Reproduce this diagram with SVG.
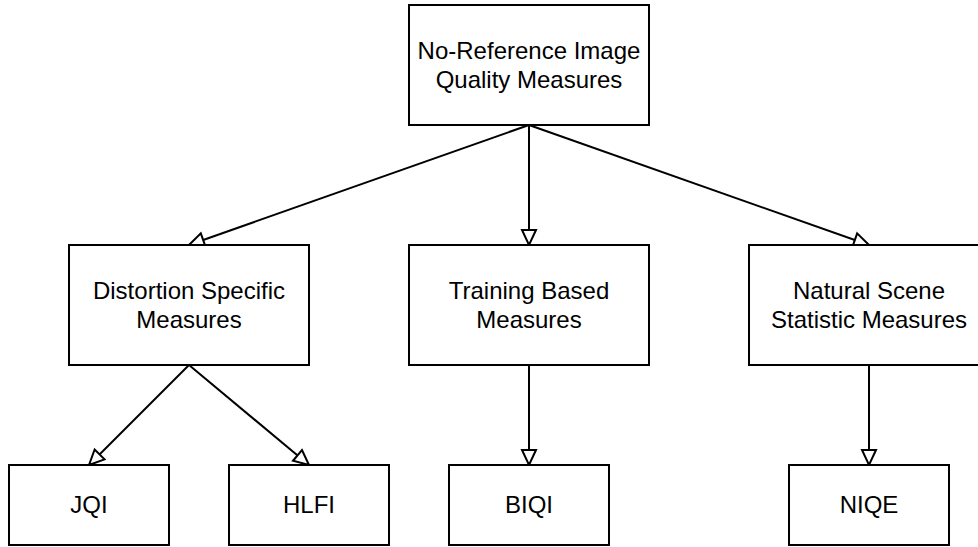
<svg xmlns="http://www.w3.org/2000/svg" width="978" height="547" viewBox="0 0 978 547">
  <style>
    .box { fill: #ffffff; stroke: #000000; stroke-width: 2; }
    .lbl { font-family: "Liberation Sans", Arial, Helvetica, sans-serif; font-size: 24px; fill: #000000; text-anchor: middle; }
    .edge { fill: none; stroke: #000000; stroke-width: 2; marker-end: url(#arrow); }
  </style>
  <defs>
    <marker id="arrow" markerUnits="userSpaceOnUse" markerWidth="20" markerHeight="20" viewBox="-2 -2 20 18" refX="15" refY="7" orient="auto">
      <path d="M0,0 L15,7 L0,14 Z" fill="#ffffff" stroke="#000000" stroke-width="2" stroke-linejoin="miter"/>
    </marker>
  </defs>
  <rect width="978" height="547" fill="#ffffff"/>

  <g id="connectors">
    <path class="edge" d="M529,125 L189,245"/>
    <path class="edge" d="M529,125 L529,245"/>
    <path class="edge" d="M529,125 L869,245"/>
    <path class="edge" d="M189,365 L89,465"/>
    <path class="edge" d="M189,365 L309,465"/>
    <path class="edge" d="M529,365 L529,465"/>
    <path class="edge" d="M869,365 L869,465"/>
  </g>

  <g id="node-root">
    <rect class="box" x="409" y="5" width="240" height="120"/>
    <text class="lbl" x="529" y="59">No-Reference Image</text>
    <text class="lbl" x="529" y="88">Quality Measures</text>
  </g>
  <g id="node-distortion">
    <rect class="box" x="69" y="245" width="240" height="120"/>
    <text class="lbl" x="189" y="299">Distortion Specific</text>
    <text class="lbl" x="189" y="328">Measures</text>
  </g>
  <g id="node-training">
    <rect class="box" x="409" y="245" width="240" height="120"/>
    <text class="lbl" x="529" y="299">Training Based</text>
    <text class="lbl" x="529" y="328">Measures</text>
  </g>
  <g id="node-nss">
    <rect class="box" x="749" y="245" width="240" height="120"/>
    <text class="lbl" x="869" y="299">Natural Scene</text>
    <text class="lbl" x="869" y="328">Statistic Measures</text>
  </g>
  <g id="node-jqi">
    <rect class="box" x="9" y="465" width="160" height="80"/>
    <text class="lbl" x="89" y="513">JQI</text>
  </g>
  <g id="node-hlfi">
    <rect class="box" x="229" y="465" width="160" height="80"/>
    <text class="lbl" x="309" y="513">HLFI</text>
  </g>
  <g id="node-biqi">
    <rect class="box" x="449" y="465" width="160" height="80"/>
    <text class="lbl" x="529" y="513">BIQI</text>
  </g>
  <g id="node-niqe">
    <rect class="box" x="789" y="465" width="160" height="80"/>
    <text class="lbl" x="869" y="513">NIQE</text>
  </g>
</svg>
